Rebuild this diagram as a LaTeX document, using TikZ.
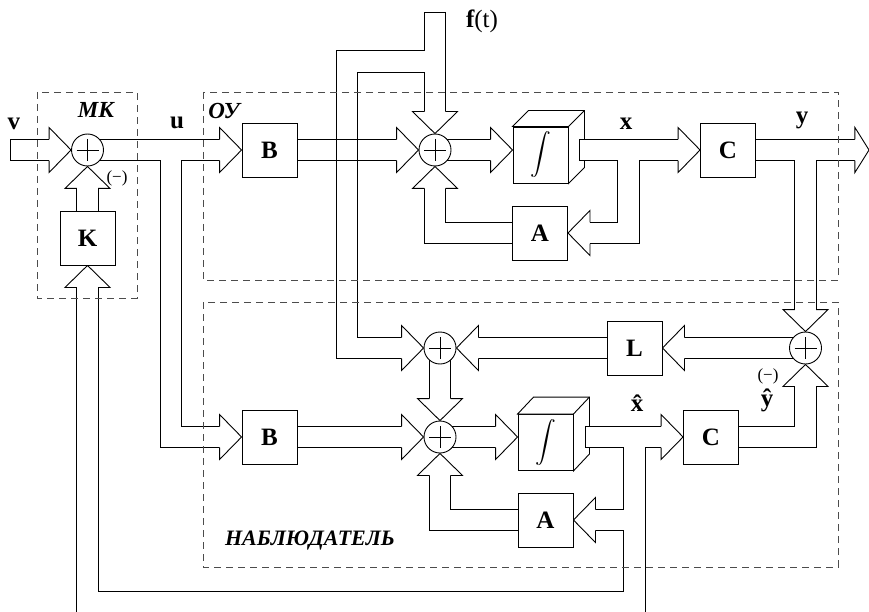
\documentclass[tikz,border=0pt]{standalone}
\usepackage{exscale}
\usepackage{fontspec}
\setmainfont{Liberation Serif}
\usetikzlibrary{calc}
\pgfdeclarelayer{bottom}
\pgfdeclarelayer{pipes}
\pgfsetlayers{bottom,pipes,main}

\tikzset{
  wall/.style={line width=0.9pt, line join=miter},
  pipeout/.style={line width=22.3pt, line join=miter},
  pipein/.style={line width=20.5pt, white, line join=miter},
  block/.style={draw, fill=white, line width=0.9pt, minimum width=55pt,
    minimum height=54pt, inner sep=0pt, font=\fontsize{25}{25}\selectfont\bfseries},
  cube/.style={block, minimum height=56pt, font=\fontsize{20}{20}\selectfont},
  sum/.style={draw, circle, fill=white, line width=0.9pt, minimum size=32pt, inner sep=0pt,
    path picture={\draw[line width=0.9pt] (path picture bounding box.center)
      +(-11,0) -- +(11,0) +(0,-11) -- +(0,11);}},
  lbl/.style={inner sep=0pt, font=\fontsize{25}{25}\selectfont\bfseries},
  tag/.style={inner sep=0pt, font=\fontsize{23}{23}\selectfont\bfseries\itshape},
  minus/.style={inner sep=0pt, font=\fontsize{17}{17}\selectfont},
  zone/.style={dash pattern=on 7pt off 5pt, line width=0.9pt, black!70},
  pipehead/.pic={
    \fill[white] (0,0) -- (-22,22.5) -- (-22,-22.5) -- cycle;
    \draw[wall] (-22,10.7) -- (-22,22.5) -- (0,0) -- (-22,-22.5) -- (-22,-10.7);
  }
}

\newcommand{\pipenet}{
  (vin) -- ($(sk.west)+(-22,0)$)
  (sk.center) -- ($(bu.west)+(-22,0)$)
  (uj) |- ($(b2.west)+(-22,0)$)
  (k.center) -- ($(sk.south)+(0,22)$)
  (bu.center) -- ($(s1.west)+(-22,0)$)
  (fin) -- ($(s1.north)+(0,-22)$)
  (fj) -| (fc) -- ($(s2.west)+(-22,0)$)
  (a1.center) -| ($(s1.south)+(0,22)$)
  (s1.center) -- ($(i1.west |- s1)+(-22,0)$)
  (xo) -- ($(c1.west)+(-22,0)$)
  (xj) |- ($(a1.east)+(22,0)$)
  (c1.center) -- ($(yout)+(-14,0)$)
  (yj) -- ($(s3.north)+(0,-22)$)
  (s3.center) -- ($(l.east)+(22,0)$)
  (l.center) -- ($(s2.east)+(22,0)$)
  (s2.center) -- ($(s4.north)+(0,-22)$)
  (b2.center) -- ($(s4.west)+(-22,0)$)
  (a2.center) -| ($(s4.south)+(0,22)$)
  (s4.center) -- ($(i2.west |- s4)+(-22,0)$)
  (xho) -- ($(c2.west)+(-22,0)$)
  (xhj) |- ($(a2.east)+(22,0)$)
  (xhj) |- (fb) -- ($(k.south)+(0,22)$)
  (c2.center) -| ($(s3.south)+(0,22)$)
}

\begin{document}
\begin{tikzpicture}[x=1pt, y=-1pt]
\useasboundingbox (0,0) rectangle (869,612);

\node (sk) [sum] at (87.5,150) {};
\node (bu) [block] at (269.5,150) {B};
\node (s1) [sum] at (435,150) {};
\node (c1) [block] at (728,150) {C};
\node (a1) [block] at (540,233) {A};
\node (k) [block] at (87.5,238) {K};
\node (s2) [sum] at (440,348) {};
\node (l) [block] at (634.5,348) {L};
\node (s3) [sum] at (805.5,348) {};
\node (b2) [block] at (269.5,437) {B};
\node (s4) [sum] at (440,437) {};
\node (c2) [block] at (711,437) {C};
\node (a2) [block] at (545.5,520) {A};

\begin{pgfonlayer}{bottom}
\node (i1) [cube] at (540.5,155) {$\displaystyle\int$};
\draw[wall, fill=white] (i1.north west) -- ++(16,-16) -- ($(i1.north east)+(16,-16)$)
  -- ($(i1.south east)+(16,-16)$) -- (i1.south east) -- (i1.north east) -- cycle;
\draw[wall] (i1.north east) -- ++(16,-16);
\node (i2) [cube] at (545.5,442.5) {$\displaystyle\int$};
\draw[wall, fill=white] (i2.north west) -- ++(16,-17) -- ($(i2.north east)+(16,-17)$)
  -- ($(i2.south east)+(16,-17)$) -- (i2.south east) -- (i2.north east) -- cycle;
\draw[wall] (i2.north east) -- ++(16,-17);
\end{pgfonlayer}

\coordinate (vin) at (10,150);
\coordinate (fin) at (435,12);
\coordinate (fj) at (435,61.5);
\coordinate (fc) at (347,348);
\coordinate (uj) at (171,150);
\coordinate (xo) at (579,150);
\coordinate (xj) at (628.5,150);
\coordinate (yj) at (805.5,150);
\coordinate (yout) at (869,150);
\coordinate (xho) at (585,437);
\coordinate (xhj) at (634.5,437);
\coordinate (fb) at (87.5,602.5);
\coordinate (fx) at (fc |- bu);

\begin{pgfonlayer}{pipes}
\draw[pipeout] \pipenet;
\draw[pipein] \pipenet;
\draw[wall] ($(fx)+(-10.7,-10.7)$) rectangle ($(fx)+(10.7,10.7)$);
\draw[wall] ($(vin)+(0,-10.7)$) -- ($(vin)+(0,10.7)$);
\draw[wall] ($(fin)+(-10.7,0)$) -- ($(fin)+(10.7,0)$);
\draw[wall] ($(xo)+(0,-10.7)$) -- ($(xo)+(0,10.7)$);
\draw[wall] ($(xho)+(0,-10.7)$) -- ($(xho)+(0,10.7)$);
\pic at (sk.west) {pipehead};
\pic[rotate=90] at (sk.south) {pipehead};
\pic at (bu.west) {pipehead};
\pic at (b2.west) {pipehead};
\pic[rotate=90] at (k.south) {pipehead};
\pic at (s1.west) {pipehead};
\pic[rotate=-90] at (s1.north) {pipehead};
\pic[rotate=90] at (s1.south) {pipehead};
\pic at (i1.west |- s1) {pipehead};
\pic at (c1.west) {pipehead};
\pic[rotate=180] at (a1.east) {pipehead};
\pic[xscale=0.64] at (yout) {pipehead};
\pic[rotate=-90] at (s3.north) {pipehead};
\pic[rotate=90] at (s3.south) {pipehead};
\pic[rotate=180] at (l.east) {pipehead};
\pic at (s2.west) {pipehead};
\pic[rotate=180] at (s2.east) {pipehead};
\pic[rotate=-90] at (s4.north) {pipehead};
\pic at (s4.west) {pipehead};
\pic[rotate=90] at (s4.south) {pipehead};
\pic at (i2.west |- s4) {pipehead};
\pic at (c2.west) {pipehead};
\pic[rotate=180] at (a2.east) {pipehead};
\end{pgfonlayer}

\node (lv) [lbl] at (14,124) {v};
\node (lmk) [tag] at (96,110) {МК};
\node (lu) [lbl] at (177,123) {u};
\node (loy) [tag] at (224,111) {ОУ};
\node (m1) [minus] at (117,178) {(−)};
\node (lx) [lbl] at (626,124) {x};
\node (ly) [lbl] at (802,120) {y};
\node (lf) [lbl] at (482,21) {f\mdseries(t)};
\node (lxh) [lbl] at (637,403) {\^{x}};
\node (lyh) [lbl] at (767,400) {\^{y}};
\node (m2) [minus] at (768,376) {(−)};
\node (lobs) [tag, font=\fontsize{22}{22}\selectfont\bfseries\itshape] at (310,541) {НАБЛЮДАТЕЛЬ};

\draw[zone] (37,92) rectangle (137,298);
\draw[zone] (203,92) rectangle (838,280);
\draw[zone] (203,302) rectangle (838,567);
\end{tikzpicture}
\end{document}
